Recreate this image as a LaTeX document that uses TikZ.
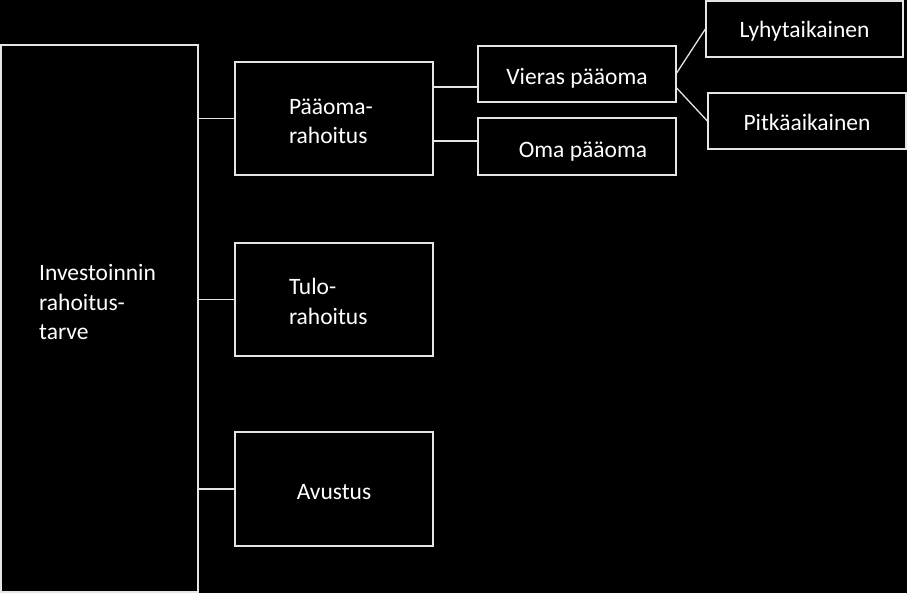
\documentclass[tikz,border=0pt]{standalone}
\usepackage{fontspec}
\setmainfont{Carlito}
\usepackage{tikz}
\usetikzlibrary{positioning,calc}

\begin{document}
\begin{tikzpicture}[x=1pt, y=-1pt,
    every node/.style={font=\fontsize{23.5}{29.5}\selectfont, text=white},
    box/.style={rectangle, draw=white!90!black, line width=1.3pt, inner sep=0pt, minimum width=198pt},
    link/.style={draw=white!90!black, line width=1.3pt}]
        % Background
        \fill[black] (0,0) rectangle (907,593);
        \useasboundingbox (0,0) rectangle (907,593);
        % Main need
        \node[box,minimum width=197pt,minimum height=547pt] (need) at (99.5,318.5) {};
        \node[anchor=west,align=left,inner sep=0pt] (needlabel) at (39,302.5) {Investoinnin\\rahoitus-\\tarve};
        % Financing types
        \node[box,minimum height=113pt] (paaoma) at (334,118.5) {\raisebox{-3pt}[\height][\depth]{\parbox{90pt}{Pääoma-\\rahoitus}}};
        \node[box,minimum height=113pt] (tulo) at (334,299.5) {\raisebox{-2pt}[\height][\depth]{\parbox{90pt}{Tulo-\\rahoitus}}};
        \node[box,minimum height=114pt] (avustus) at (334,489) {\raisebox{-3pt}[\height][\depth]{Avustus}};
        % Capital
        \node[box,minimum height=56pt] (vieras) at (577,74) {\raisebox{-4pt}[\height][\depth]{Vieras pääoma}};
        \node[box,minimum height=57pt] (oma) at (577,146.5) {\raisebox{-5pt}[\height][\depth]{\hspace{12pt}Oma pääoma}};
        % Loan terms
        \node[box,minimum width=197pt,minimum height=56pt] (lyhyt) at (804.5,29) {\raisebox{-2pt}[\height][\depth]{Lyhytaikainen}};
        \node[box,minimum height=56pt] (pitka) at (807,121) {\raisebox{-1pt}[\height][\depth]{Pitkäaikainen}};
        % Connectors
        \draw[link] (paaoma.west) -- (paaoma.west -| need.east);
        \draw[link] (tulo.west) -- (tulo.west -| need.east);
        \draw[link] (avustus.west) -- (avustus.west -| need.east);
        \draw[link] ([yshift=31.5pt]paaoma.east) -- ([yshift=31.5pt]paaoma.east -| vieras.west);
        \draw[link] ([yshift=-22.5pt]paaoma.east) -- ([yshift=-22.5pt]paaoma.east -| oma.west);
        \draw[link] ([yshift=1pt]vieras.east) -- (lyhyt.west);
        \draw[link] ([yshift=-14pt]vieras.east) -- (pitka.west);
      \end{tikzpicture}
\end{document}
